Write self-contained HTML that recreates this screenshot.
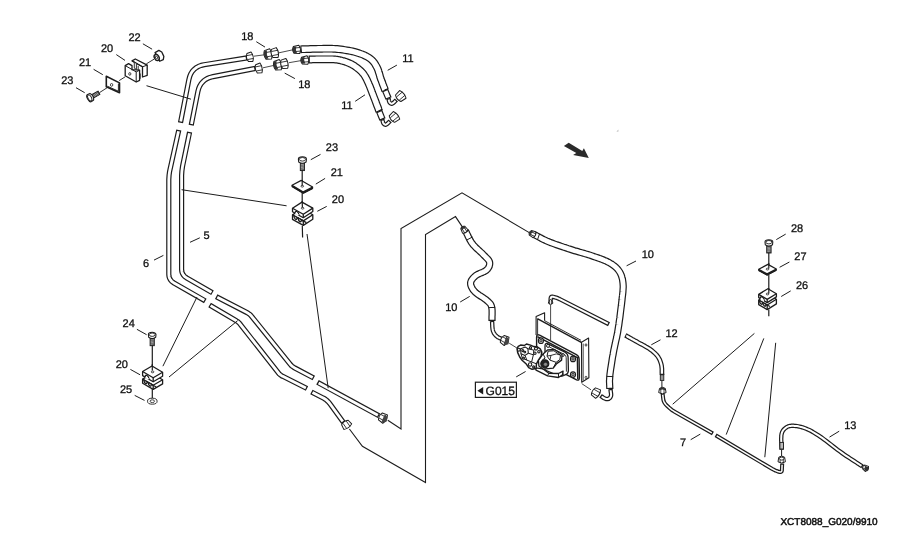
<!DOCTYPE html>
<html lang="en">
<head>
<meta charset="utf-8">
<title>XCT8088_G020/9910</title>
<style>
html,body{margin:0;padding:0;background:#fff;}
body{width:923px;height:544px;overflow:hidden;}
svg{display:block;filter:grayscale(1);}
svg text{font-family:"Liberation Sans",sans-serif;fill:#111;stroke:#111;stroke-width:0.3px;text-rendering:geometricPrecision;font-kerning:normal;font-feature-settings:"liga" 0,"clig" 0,"calt" 0,"dlig" 0;}
</style>
</head>
<body>
<svg width="923" height="544" viewBox="0 0 923 544">
<rect x="0" y="0" width="923" height="544" fill="#fff"/>
<g id="routing">
<path d="M387.8 420.3 L401 429 L401 228.6 L462 192.8 L529.7 232.9" stroke="#1c1c1c" stroke-width="1.1" fill="none" stroke-linejoin="miter"/>
<path d="M349.4 429 L362.4 446.3 L425.5 482.5 L425.5 234.6 L455.5 216.6 L463.5 228.6" stroke="#1c1c1c" stroke-width="1.1" fill="none" stroke-linejoin="miter"/>
</g>
<g id="pipe6">
<path d="M247 57.9 L204.2 64.7 L201.2 65.4 L198.5 66.4 L196.1 67.8 L194 69.5 L192.2 71.5 L190.8 73.8 L189.7 76.5 L188.9 79.6 L180.5 122.7" stroke="#1c1c1c" stroke-width="5.2" fill="none" stroke-linejoin="round"/>
<path d="M245.8 58.1 L204.2 64.7 L201.2 65.4 L198.5 66.4 L196.1 67.8 L194 69.5 L192.2 71.5 L190.8 73.8 L189.7 76.5 L188.9 79.6 L180.7 121.5" stroke="#fff" stroke-width="2.8" fill="none" stroke-linejoin="round"/>
<path d="M178.8 130 L170.1 169.1 L169.8 170.6 L169.5 172.1 L169.3 173.6 L169.1 175 L169 176.5 L168.9 178 L168.8 179.5 L168.8 181 L168.8 274 L168.9 275.5 L169.1 276.8 L169.5 278.1 L170.1 279.2 L170.8 280.3 L171.7 281.3 L172.8 282.2 L174 283 L205.3 300.9" stroke="#1c1c1c" stroke-width="5.2" fill="none" stroke-linejoin="round"/>
<path d="M178.5 131.2 L170.1 169.1 L169.8 170.6 L169.5 172.1 L169.3 173.6 L169.1 175 L169 176.5 L168.9 178 L168.8 179.5 L168.8 181 L168.8 274 L168.9 275.5 L169.1 276.8 L169.5 278.1 L170.1 279.2 L170.8 280.3 L171.7 281.3 L172.8 282.2 L174 283 L204.3 300.3" stroke="#fff" stroke-width="2.8" fill="none" stroke-linejoin="round"/>
<path d="M209.6 305 L235.9 320.5 L236.5 320.9 L237.2 321.3 L237.8 321.7 L238.3 322.2 L238.9 322.7 L239.4 323.2 L239.9 323.8 L240.3 324.4 L278.2 372.6 L278.6 373.2 L279.1 373.8 L279.7 374.3 L280.2 374.7 L280.8 375.2 L281.4 375.6 L282 376 L282.7 376.3 L307 388.5" stroke="#1c1c1c" stroke-width="5.2" fill="none" stroke-linejoin="round"/>
<path d="M210.6 305.6 L235.9 320.5 L236.5 320.9 L237.2 321.3 L237.8 321.7 L238.3 322.2 L238.9 322.7 L239.4 323.2 L239.9 323.8 L240.3 324.4 L278.2 372.6 L278.6 373.2 L279.1 373.8 L279.7 374.3 L280.2 374.7 L280.8 375.2 L281.4 375.6 L282 376 L282.7 376.3 L305.9 388" stroke="#fff" stroke-width="2.8" fill="none" stroke-linejoin="round"/>
<path d="M311.4 392 L322.7 397.7 L323.8 398.3 L324.9 399 L325.9 399.7 L326.8 400.4 L327.7 401.3 L328.6 402.1 L329.4 403.1 L330.1 404 L343.5 422.5" stroke="#1c1c1c" stroke-width="5.2" fill="none" stroke-linejoin="round"/>
<path d="M312.5 392.5 L322.7 397.7 L323.8 398.3 L324.9 399 L325.9 399.7 L326.8 400.4 L327.7 401.3 L328.6 402.1 L329.4 403.1 L330.1 404 L342.8 421.5" stroke="#fff" stroke-width="2.8" fill="none" stroke-linejoin="round"/>
</g>
<g id="pipe5">
<path d="M255.5 68.4 L213.1 76.6 L210 77.4 L207.3 78.5 L204.9 79.9 L202.9 81.7 L201.1 83.7 L199.7 86.1 L198.6 88.8 L197.8 91.9 L191.2 125.2" stroke="#1c1c1c" stroke-width="5.2" fill="none" stroke-linejoin="round"/>
<path d="M254.3 68.6 L213.1 76.6 L210 77.4 L207.3 78.5 L204.9 79.9 L202.9 81.7 L201.1 83.7 L199.7 86.1 L198.6 88.8 L197.8 91.9 L191.5 124" stroke="#fff" stroke-width="2.8" fill="none" stroke-linejoin="round"/>
<path d="M189.6 132 L182.8 165.1 L182.5 166.6 L182.3 168.1 L182.1 169.5 L181.9 171 L181.8 172.5 L181.7 174 L181.6 175.5 L181.6 177 L181.6 269 L181.7 270.5 L181.9 271.8 L182.3 273.1 L182.9 274.2 L183.6 275.3 L184.5 276.3 L185.6 277.2 L186.8 278 L212.5 292.8" stroke="#1c1c1c" stroke-width="5.2" fill="none" stroke-linejoin="round"/>
<path d="M189.4 133.2 L182.8 165.1 L182.5 166.6 L182.3 168.1 L182.1 169.5 L181.9 171 L181.8 172.5 L181.7 174 L181.6 175.5 L181.6 177 L181.6 269 L181.7 270.5 L181.9 271.8 L182.3 273.1 L182.9 274.2 L183.6 275.3 L184.5 276.3 L185.6 277.2 L186.8 278 L211.5 292.2" stroke="#fff" stroke-width="2.8" fill="none" stroke-linejoin="round"/>
<path d="M216.2 296.6 L247 312.6 L247.7 313 L248.3 313.4 L248.9 313.8 L249.5 314.2 L250.1 314.7 L250.6 315.2 L251.1 315.8 L251.6 316.3 L290.1 364.2 L290.6 364.7 L291.1 365.3 L291.6 365.8 L292.2 366.3 L292.8 366.7 L293.4 367.1 L294 367.5 L294.7 367.9 L313.8 378" stroke="#1c1c1c" stroke-width="5.2" fill="none" stroke-linejoin="round"/>
<path d="M217.3 297.2 L247 312.6 L247.7 313 L248.3 313.4 L248.9 313.8 L249.5 314.2 L250.1 314.7 L250.6 315.2 L251.1 315.8 L251.6 316.3 L290.1 364.2 L290.6 364.7 L291.1 365.3 L291.6 365.8 L292.2 366.3 L292.8 366.7 L293.4 367.1 L294 367.5 L294.7 367.9 L312.7 377.4" stroke="#fff" stroke-width="2.8" fill="none" stroke-linejoin="round"/>
<path d="M317.5 382.3 L379 415.8" stroke="#1c1c1c" stroke-width="5.2" fill="none" stroke-linejoin="round"/>
<path d="M318.6 382.9 L377.9 415.2" stroke="#fff" stroke-width="2.8" fill="none" stroke-linejoin="round"/>
</g>
<g id="leaders-long">
<path d="M146.5 85.7L191 99.2" stroke="#1c1c1c" stroke-width="1" fill="none"/>
<path d="M181.6 189.7L286.6 205.8" stroke="#1c1c1c" stroke-width="1" fill="none"/>
<path d="M307 234L328.2 388.2" stroke="#1c1c1c" stroke-width="1" fill="none"/>
<path d="M162.9 366.2L197 297" stroke="#1c1c1c" stroke-width="1" fill="none"/>
<path d="M169 377L237.7 320.6" stroke="#1c1c1c" stroke-width="1" fill="none"/>
<path d="M754.4 333.4L672.7 404.2" stroke="#1c1c1c" stroke-width="1" fill="none"/>
<path d="M763.8 338.4L726.2 434.6" stroke="#1c1c1c" stroke-width="1" fill="none"/>
<path d="M775.7 342.8L764.8 457.2" stroke="#1c1c1c" stroke-width="1" fill="none"/>
</g>
<g id="hose11">
<path d="M300.5 49.3 L302.5 49.2 L304.4 49.2 L306.4 49.1 L308.4 49.1 L310.4 49 L312.4 48.9 L314.3 48.9 L316.3 48.9 L318.2 48.8 L320 48.8 L321.8 48.8 L323.5 48.7 L325.2 48.7 L326.9 48.7 L328.5 48.7 L330.2 48.7 L331.8 48.7 L333.5 48.8 L335.2 48.9 L337 49 L338.8 49.2 L340.8 49.4 L342.7 49.7 L344.7 50 L346.7 50.3 L348.7 50.6 L350.6 51 L352.5 51.4 L354.3 51.8 L356 52.3 L357.6 52.8 L359.2 53.3 L360.8 53.9 L362.3 54.4 L363.8 55 L365.1 55.7 L366.5 56.3 L367.7 57 L368.9 57.8 L370 58.5 L371 59.3 L371.9 60.1 L372.7 60.9 L373.5 61.8 L374.2 62.7 L374.8 63.6 L375.4 64.6 L375.9 65.5 L376.5 66.5 L377 67.5 L377.5 68.5 L377.9 69.5 L378.3 70.5 L378.6 71.6 L378.9 72.6 L379.3 73.7 L379.6 74.8 L379.9 75.9 L380.2 77.1 L380.6 78.2 L381 79.4 L381.5 80.5 L381.9 81.7 L382.4 83 L382.8 84.2 L383.3 85.4 L383.8 86.7 L384.3 87.9 L384.7 89.2 L385.2 90.4" stroke="#1c1c1c" stroke-width="7.8" fill="none" stroke-linejoin="round"/>
<path d="M301.7 49.3 L302.5 49.2 L304.4 49.2 L306.4 49.1 L308.4 49.1 L310.4 49 L312.4 48.9 L314.3 48.9 L316.3 48.9 L318.2 48.8 L320 48.8 L321.8 48.8 L323.5 48.7 L325.2 48.7 L326.9 48.7 L328.5 48.7 L330.2 48.7 L331.8 48.7 L333.5 48.8 L335.2 48.9 L337 49 L338.8 49.2 L340.8 49.4 L342.7 49.7 L344.7 50 L346.7 50.3 L348.7 50.6 L350.6 51 L352.5 51.4 L354.3 51.8 L356 52.3 L357.6 52.8 L359.2 53.3 L360.8 53.9 L362.3 54.4 L363.8 55 L365.1 55.7 L366.5 56.3 L367.7 57 L368.9 57.8 L370 58.5 L371 59.3 L371.9 60.1 L372.7 60.9 L373.5 61.8 L374.2 62.7 L374.8 63.6 L375.4 64.6 L375.9 65.5 L376.5 66.5 L377 67.5 L377.5 68.5 L377.9 69.5 L378.3 70.5 L378.6 71.6 L378.9 72.6 L379.3 73.7 L379.6 74.8 L379.9 75.9 L380.2 77.1 L380.6 78.2 L381 79.4 L381.5 80.5 L381.9 81.7 L382.4 83 L382.8 84.2 L383.3 85.4 L383.8 86.7 L384.3 87.9 L384.7 89.2 L384.8 89.3" stroke="#fff" stroke-width="5.4" fill="none" stroke-linejoin="round"/>
<path d="M308.6 59.5 L309.9 59.5 L311.3 59.5 L312.6 59.4 L313.9 59.4 L315.2 59.4 L316.5 59.3 L317.9 59.3 L319.2 59.3 L320.6 59.3 L322 59.3 L323.4 59.3 L324.9 59.3 L326.4 59.3 L327.9 59.3 L329.4 59.3 L330.9 59.3 L332.4 59.3 L333.9 59.4 L335.4 59.5 L336.8 59.7 L338.2 59.9 L339.5 60.2 L340.9 60.4 L342.2 60.8 L343.5 61.1 L344.8 61.5 L346.1 61.9 L347.4 62.4 L348.6 62.9 L349.8 63.4 L351 64 L352.2 64.6 L353.4 65.3 L354.6 66.1 L355.7 66.9 L356.8 67.7 L357.9 68.5 L358.9 69.3 L359.9 70.2 L360.8 71 L361.6 71.8 L362.3 72.6 L363 73.4 L363.6 74.2 L364.2 75 L364.7 75.8 L365.3 76.7 L365.8 77.7 L366.4 78.8 L367 80 L367.6 81.3 L368.3 82.8 L368.9 84.3 L369.6 85.9 L370.3 87.6 L370.9 89.3 L371.6 91 L372.2 92.7 L372.9 94.4 L373.5 96 L374.1 97.6 L374.7 99.1 L375.3 100.7 L375.9 102.2 L376.4 103.7 L377 105.3 L377.6 106.8 L378.2 108.3 L378.7 109.9 L379.3 111.4" stroke="#1c1c1c" stroke-width="7.8" fill="none" stroke-linejoin="round"/>
<path d="M309.8 59.5 L309.9 59.5 L311.3 59.5 L312.6 59.4 L313.9 59.4 L315.2 59.4 L316.5 59.3 L317.9 59.3 L319.2 59.3 L320.6 59.3 L322 59.3 L323.4 59.3 L324.9 59.3 L326.4 59.3 L327.9 59.3 L329.4 59.3 L330.9 59.3 L332.4 59.3 L333.9 59.4 L335.4 59.5 L336.8 59.7 L338.2 59.9 L339.5 60.2 L340.9 60.4 L342.2 60.8 L343.5 61.1 L344.8 61.5 L346.1 61.9 L347.4 62.4 L348.6 62.9 L349.8 63.4 L351 64 L352.2 64.6 L353.4 65.3 L354.6 66.1 L355.7 66.9 L356.8 67.7 L357.9 68.5 L358.9 69.3 L359.9 70.2 L360.8 71 L361.6 71.8 L362.3 72.6 L363 73.4 L363.6 74.2 L364.2 75 L364.7 75.8 L365.3 76.7 L365.8 77.7 L366.4 78.8 L367 80 L367.6 81.3 L368.3 82.8 L368.9 84.3 L369.6 85.9 L370.3 87.6 L370.9 89.3 L371.6 91 L372.2 92.7 L372.9 94.4 L373.5 96 L374.1 97.6 L374.7 99.1 L375.3 100.7 L375.9 102.2 L376.4 103.7 L377 105.3 L377.6 106.8 L378.2 108.3 L378.7 109.9 L378.9 110.3" stroke="#fff" stroke-width="5.4" fill="none" stroke-linejoin="round"/>
</g>
<g id="hose10L">
<path d="M465.5 231 L466.2 232.3 L466.8 233.6 L467.5 234.9 L468.1 236.3 L468.8 237.6 L469.4 238.9 L470.1 240.2 L470.9 241.5 L471.6 242.7 L472.5 243.9 L473.5 245.1 L474.5 246.2 L475.6 247.4 L476.8 248.5 L478 249.6 L479.2 250.7 L480.4 251.8 L481.5 252.8 L482.5 253.8 L483.4 254.7 L484.3 255.6 L485.1 256.4 L485.9 257.2 L486.7 258 L487.4 258.7 L488 259.4 L488.6 260.1 L489 260.8 L489.4 261.6 L489.6 262.3 L489.7 263.1 L489.7 263.9 L489.6 264.7 L489.4 265.5 L489.2 266.3 L488.8 267.1 L488.4 267.8 L487.8 268.6 L487.3 269.3 L486.6 270 L485.8 270.6 L484.8 271.2 L483.8 271.8 L482.6 272.3 L481.3 272.8 L480.1 273.3 L478.9 273.9 L477.7 274.4 L476.7 275 L475.8 275.6 L475 276.3 L474.3 276.9 L473.5 277.6 L472.9 278.4 L472.3 279.1 L471.7 279.9 L471.3 280.6 L471 281.4 L470.7 282.2 L470.6 283 L470.6 283.8 L470.7 284.6 L470.9 285.5 L471.2 286.3 L471.6 287.2 L472.1 288.1 L472.6 289 L473.2 289.9 L473.9 290.7 L474.7 291.6 L475.6 292.5 L476.7 293.4 L477.9 294.3 L479.2 295.2 L480.6 296.1 L482 297 L483.3 297.8 L484.5 298.7 L485.7 299.5 L486.6 300.3 L487.4 301 L488.1 301.6 L488.8 302.2 L489.3 302.7 L489.8 303.2 L490.3 303.8 L490.7 304.4 L491 305 L491.3 305.8 L491.6 306.8 L491.8 307.9 L492 309.1 L492.1 310.5 L492.1 311.9 L492.1 313.4 L492.1 315 L492 316.5 L492 318 L492 319.5 L492 321" stroke="#1c1c1c" stroke-width="7.2" fill="none" stroke-linejoin="round"/>
<path d="M466.1 232.1 L466.2 232.3 L466.8 233.6 L467.5 234.9 L468.1 236.3 L468.8 237.6 L469.4 238.9 L470.1 240.2 L470.9 241.5 L471.6 242.7 L472.5 243.9 L473.5 245.1 L474.5 246.2 L475.6 247.4 L476.8 248.5 L478 249.6 L479.2 250.7 L480.4 251.8 L481.5 252.8 L482.5 253.8 L483.4 254.7 L484.3 255.6 L485.1 256.4 L485.9 257.2 L486.7 258 L487.4 258.7 L488 259.4 L488.6 260.1 L489 260.8 L489.4 261.6 L489.6 262.3 L489.7 263.1 L489.7 263.9 L489.6 264.7 L489.4 265.5 L489.2 266.3 L488.8 267.1 L488.4 267.8 L487.8 268.6 L487.3 269.3 L486.6 270 L485.8 270.6 L484.8 271.2 L483.8 271.8 L482.6 272.3 L481.3 272.8 L480.1 273.3 L478.9 273.9 L477.7 274.4 L476.7 275 L475.8 275.6 L475 276.3 L474.3 276.9 L473.5 277.6 L472.9 278.4 L472.3 279.1 L471.7 279.9 L471.3 280.6 L471 281.4 L470.7 282.2 L470.6 283 L470.6 283.8 L470.7 284.6 L470.9 285.5 L471.2 286.3 L471.6 287.2 L472.1 288.1 L472.6 289 L473.2 289.9 L473.9 290.7 L474.7 291.6 L475.6 292.5 L476.7 293.4 L477.9 294.3 L479.2 295.2 L480.6 296.1 L482 297 L483.3 297.8 L484.5 298.7 L485.7 299.5 L486.6 300.3 L487.4 301 L488.1 301.6 L488.8 302.2 L489.3 302.7 L489.8 303.2 L490.3 303.8 L490.7 304.4 L491 305 L491.3 305.8 L491.6 306.8 L491.8 307.9 L492 309.1 L492.1 310.5 L492.1 311.9 L492.1 313.4 L492.1 315 L492 316.5 L492 318 L492 319.5 L492 319.8" stroke="#fff" stroke-width="4.8" fill="none" stroke-linejoin="round"/>
<path d="M492 321 L492.1 322 L492.2 323.1 L492.2 324.1 L492.3 325.2 L492.3 326.3 L492.4 327.3 L492.5 328.3 L492.6 329.3 L492.8 330.2 L493 331 L493.3 331.7 L493.6 332.4 L493.9 333.1 L494.3 333.6 L494.7 334.2 L495.1 334.7 L495.6 335.2 L496 335.6 L496.5 336.1 L497 336.5 L497.5 336.9 L498.1 337.3 L498.7 337.6 L499.3 337.9 L499.9 338.2 L500.5 338.4 L501.1 338.7 L501.8 338.9 L502.4 339.2 L503 339.5" stroke="#1c1c1c" stroke-width="4.4" fill="none" stroke-linejoin="round"/>
<path d="M492.1 322.2 L492.2 323.1 L492.2 324.1 L492.3 325.2 L492.3 326.3 L492.4 327.3 L492.5 328.3 L492.6 329.3 L492.8 330.2 L493 331 L493.3 331.7 L493.6 332.4 L493.9 333.1 L494.3 333.6 L494.7 334.2 L495.1 334.7 L495.6 335.2 L496 335.6 L496.5 336.1 L497 336.5 L497.5 336.9 L498.1 337.3 L498.7 337.6 L499.3 337.9 L499.9 338.2 L500.5 338.4 L501.1 338.7 L501.8 338.9 L501.9 339" stroke="#fff" stroke-width="2" fill="none" stroke-linejoin="round"/>
</g>
<g id="hose10R">
<path d="M534 234.4 L535.4 235.1 L536.8 235.9 L538.1 236.6 L539.5 237.3 L540.8 238 L542.2 238.8 L543.6 239.5 L545.1 240.2 L546.8 241 L548.5 241.7 L550.4 242.5 L552.4 243.2 L554.5 244 L556.7 244.8 L558.9 245.5 L561.2 246.3 L563.5 247.1 L565.8 247.8 L568 248.6 L570.2 249.3 L572.4 250 L574.6 250.7 L576.8 251.3 L579.1 252 L581.3 252.6 L583.5 253.2 L585.6 253.9 L587.8 254.5 L589.8 255.1 L591.8 255.8 L593.7 256.5 L595.6 257.1 L597.5 257.7 L599.3 258.4 L601.1 259 L602.8 259.7 L604.5 260.4 L606.1 261 L607.6 261.8 L609 262.5 L610.3 263.3 L611.6 264 L612.7 264.8 L613.8 265.6 L614.8 266.4 L615.8 267.3 L616.7 268.1 L617.5 269 L618.3 270 L619 271 L619.7 272 L620.3 273.1 L620.8 274.2 L621.3 275.3 L621.7 276.5 L622 277.7 L622.4 278.9 L622.6 280.2 L622.8 281.6 L623 283 L623.1 284.4 L623.2 285.9 L623.2 287.3 L623.1 288.8 L623 290.4 L622.9 292 L622.7 293.8 L622.5 295.7 L622.2 297.8 L622 300 L621.7 302.5 L621.4 305.3 L621 308.3 L620.6 311.4 L620.2 314.7 L619.8 318 L619.3 321.2 L618.9 324.3 L618.4 327.3 L618 330 L617.6 332.5 L617.1 334.9 L616.7 337.1 L616.2 339.3 L615.7 341.4 L615.3 343.4 L614.8 345.5 L614.4 347.6 L613.9 349.8 L613.5 352 L613.1 354.4 L612.6 356.8 L612.2 359.4 L611.8 362 L611.4 364.6 L611 367.1 L610.6 369.5 L610.3 371.9 L610 374 L609.8 376 L609.7 377.7 L609.6 379.3 L609.5 380.7 L609.5 382 L609.6 383.2 L609.6 384.3 L609.7 385.4 L609.7 386.6 L609.8 387.7 L609.8 389" stroke="#1c1c1c" stroke-width="7.2" fill="none" stroke-linejoin="round"/>
<path d="M535.1 234.9 L535.4 235.1 L536.8 235.9 L538.1 236.6 L539.5 237.3 L540.8 238 L542.2 238.8 L543.6 239.5 L545.1 240.2 L546.8 241 L548.5 241.7 L550.4 242.5 L552.4 243.2 L554.5 244 L556.7 244.8 L558.9 245.5 L561.2 246.3 L563.5 247.1 L565.8 247.8 L568 248.6 L570.2 249.3 L572.4 250 L574.6 250.7 L576.8 251.3 L579.1 252 L581.3 252.6 L583.5 253.2 L585.6 253.9 L587.8 254.5 L589.8 255.1 L591.8 255.8 L593.7 256.5 L595.6 257.1 L597.5 257.7 L599.3 258.4 L601.1 259 L602.8 259.7 L604.5 260.4 L606.1 261 L607.6 261.8 L609 262.5 L610.3 263.3 L611.6 264 L612.7 264.8 L613.8 265.6 L614.8 266.4 L615.8 267.3 L616.7 268.1 L617.5 269 L618.3 270 L619 271 L619.7 272 L620.3 273.1 L620.8 274.2 L621.3 275.3 L621.7 276.5 L622 277.7 L622.4 278.9 L622.6 280.2 L622.8 281.6 L623 283 L623.1 284.4 L623.2 285.9 L623.2 287.3 L623.1 288.8 L623 290.4 L622.9 292 L622.7 293.8 L622.5 295.7 L622.2 297.8 L622 300 L621.7 302.5 L621.4 305.3 L621 308.3 L620.6 311.4 L620.2 314.7 L619.8 318 L619.3 321.2 L618.9 324.3 L618.4 327.3 L618 330 L617.6 332.5 L617.1 334.9 L616.7 337.1 L616.2 339.3 L615.7 341.4 L615.3 343.4 L614.8 345.5 L614.4 347.6 L613.9 349.8 L613.5 352 L613.1 354.4 L612.6 356.8 L612.2 359.4 L611.8 362 L611.4 364.6 L611 367.1 L610.6 369.5 L610.3 371.9 L610 374 L609.8 376 L609.7 377.7 L609.6 379.3 L609.5 380.7 L609.5 382 L609.6 383.2 L609.6 384.3 L609.7 385.4 L609.7 386.6 L609.8 387.7 L609.8 387.8" stroke="#fff" stroke-width="4.8" fill="none" stroke-linejoin="round"/>
<path d="M610.5 389 L610.6 389.7 L610.6 390.4 L610.7 391.1 L610.8 391.9 L610.9 392.6 L611 393.3 L611.1 394 L611.1 394.6 L611.1 395.2 L611 395.7 L610.9 396.2 L610.7 396.6 L610.5 397 L610.3 397.4 L610.1 397.7 L609.8 398 L609.5 398.2 L609.2 398.4 L608.9 398.6 L608.6 398.8 L608.3 398.9 L608 399 L607.6 399.1 L607.3 399.1 L606.9 399.1 L606.6 399 L606.2 399 L605.8 398.9 L605.4 398.7 L605 398.6 L604.6 398.4 L604.2 398.2 L603.7 398 L603.3 397.7 L602.8 397.4 L602.4 397 L601.9 396.7 L601.5 396.4 L601 396.1 L600.6 395.8" stroke="#1c1c1c" stroke-width="4.4" fill="none" stroke-linejoin="round"/>
<path d="M610.6 390.2 L610.6 390.4 L610.7 391.1 L610.8 391.9 L610.9 392.6 L611 393.3 L611.1 394 L611.1 394.6 L611.1 395.2 L611 395.7 L610.9 396.2 L610.7 396.6 L610.5 397 L610.3 397.4 L610.1 397.7 L609.8 398 L609.5 398.2 L609.2 398.4 L608.9 398.6 L608.6 398.8 L608.3 398.9 L608 399 L607.6 399.1 L607.3 399.1 L606.9 399.1 L606.6 399 L606.2 399 L605.8 398.9 L605.4 398.7 L605 398.6 L604.6 398.4 L604.2 398.2 L603.7 398 L603.3 397.7 L602.8 397.4 L602.4 397 L601.9 396.7 L601.6 396.5" stroke="#fff" stroke-width="2" fill="none" stroke-linejoin="round"/>
</g>
<g id="brtube">
<path d="M550.6 301 L550.7 298.6 L550.8 298 L550.9 297.6 L551.1 297.2 L551.3 296.9 L551.7 296.8 L552.1 296.7 L552.5 296.7 L553.1 296.8 L555.1 297.4 L555.7 297.5 L556.3 297.7 L556.9 297.9 L557.5 298.1 L558 298.4 L558.6 298.6 L559.2 298.9 L559.7 299.1 L609 324.2" stroke="#1c1c1c" stroke-width="4.4" fill="none" stroke-linejoin="round"/>
<path d="M550.6 299.8 L550.7 298.6 L550.8 298 L550.9 297.6 L551.1 297.2 L551.3 296.9 L551.7 296.8 L552.1 296.7 L552.5 296.7 L553.1 296.8 L555.1 297.4 L555.7 297.5 L556.3 297.7 L556.9 297.9 L557.5 298.1 L558 298.4 L558.6 298.6 L559.2 298.9 L559.7 299.1 L607.9 323.7" stroke="#fff" stroke-width="2" fill="none" stroke-linejoin="round"/>
</g>
<g id="t12">
<path d="M625.3 335.3 L626.5 335.9 L627.6 336.6 L628.8 337.2 L629.9 337.9 L631.1 338.5 L632.3 339.2 L633.4 339.8 L634.6 340.5 L635.8 341.1 L637 341.8 L638.2 342.5 L639.5 343.2 L640.8 343.9 L642.1 344.5 L643.4 345.2 L644.7 345.9 L646 346.7 L647.2 347.4 L648.3 348.1 L649.4 348.8 L650.4 349.5 L651.4 350.2 L652.3 350.9 L653.2 351.7 L654 352.4 L654.8 353.1 L655.6 353.9 L656.3 354.6 L657 355.4 L657.6 356.2 L658.2 357 L658.7 357.9 L659.2 358.7 L659.6 359.6 L660 360.4 L660.3 361.3 L660.6 362.2 L660.9 363.1 L661.2 364.1 L661.4 365 L661.6 366 L661.7 366.9 L661.8 367.9 L661.9 368.9 L661.9 369.9 L661.9 370.9 L661.9 372 L661.9 373 L662 374 L662 375" stroke="#1c1c1c" stroke-width="4.7" fill="none" stroke-linejoin="round"/>
<path d="M626.3 335.9 L626.5 335.9 L627.6 336.6 L628.8 337.2 L629.9 337.9 L631.1 338.5 L632.3 339.2 L633.4 339.8 L634.6 340.5 L635.8 341.1 L637 341.8 L638.2 342.5 L639.5 343.2 L640.8 343.9 L642.1 344.5 L643.4 345.2 L644.7 345.9 L646 346.7 L647.2 347.4 L648.3 348.1 L649.4 348.8 L650.4 349.5 L651.4 350.2 L652.3 350.9 L653.2 351.7 L654 352.4 L654.8 353.1 L655.6 353.9 L656.3 354.6 L657 355.4 L657.6 356.2 L658.2 357 L658.7 357.9 L659.2 358.7 L659.6 359.6 L660 360.4 L660.3 361.3 L660.6 362.2 L660.9 363.1 L661.2 364.1 L661.4 365 L661.6 366 L661.7 366.9 L661.8 367.9 L661.9 368.9 L661.9 369.9 L661.9 370.9 L661.9 372 L661.9 373 L661.9 373.8" stroke="#fff" stroke-width="2.3" fill="none" stroke-linejoin="round"/>
<path d="M661.9 380.7L661.9 388.3" stroke="#1c1c1c" stroke-width="1" fill="none"/>
</g>
<g id="t7">
<path d="M662.6 393.5 L663.2 398.5 L663.3 399.5 L663.5 400.4 L663.8 401.3 L664.2 402.2 L664.7 403 L665.2 403.8 L665.8 404.5 L666.5 405.2 L668.7 407.3 L669.4 407.9 L670.2 408.6 L670.9 409.2 L671.7 409.8 L672.5 410.4 L673.4 410.9 L674.2 411.5 L675.1 412 L712.9 433.5" stroke="#1c1c1c" stroke-width="4" fill="none" stroke-linejoin="round"/>
<path d="M662.7 394.7 L663.2 398.5 L663.3 399.5 L663.5 400.4 L663.8 401.3 L664.2 402.2 L664.7 403 L665.2 403.8 L665.8 404.5 L666.5 405.2 L668.7 407.3 L669.4 407.9 L670.2 408.6 L670.9 409.2 L671.7 409.8 L672.5 410.4 L673.4 410.9 L674.2 411.5 L675.1 412 L711.8 432.9" stroke="#fff" stroke-width="1.5" fill="none" stroke-linejoin="round"/>
<path d="M715.6 435.3 L772.4 469 L773.1 469.3 L773.7 469.7 L774.4 470 L775.1 470.4 L775.7 470.7 L776.4 470.9 L777.1 471.2 L777.8 471.5 L779 471.8 L779.6 472 L780.2 472.1 L780.7 472 L781.1 471.8 L781.5 471.5 L781.7 471.1 L781.9 470.5 L781.9 469.8 L782.2 463.5" stroke="#1c1c1c" stroke-width="4" fill="none" stroke-linejoin="round"/>
<path d="M716.7 435.9 L772.4 469 L773.1 469.3 L773.7 469.7 L774.4 470 L775.1 470.4 L775.7 470.7 L776.4 470.9 L777.1 471.2 L777.8 471.5 L779 471.8 L779.6 472 L780.2 472.1 L780.7 472 L781.1 471.8 L781.5 471.5 L781.7 471.1 L781.9 470.5 L781.9 469.8 L782.1 464.7" stroke="#fff" stroke-width="1.5" fill="none" stroke-linejoin="round"/>
<path d="M781.6 449.7L781.6 456.2" stroke="#1c1c1c" stroke-width="1" fill="none"/>
</g>
<g id="h13">
<path d="M781.6 449.7 L781.6 448.1 L781.5 446.5 L781.4 444.9 L781.4 443.2 L781.3 441.6 L781.2 440 L781.2 438.4 L781.3 437 L781.3 435.7 L781.5 434.5 L781.7 433.5 L782 432.6 L782.3 431.8 L782.7 431.1 L783.1 430.4 L783.5 429.9 L784 429.4 L784.4 428.9 L785 428.4 L785.5 428 L786.1 427.6 L786.6 427.2 L787.2 426.9 L787.8 426.6 L788.5 426.3 L789.2 426.1 L789.9 426 L790.7 425.9 L791.6 425.8 L792.5 425.8 L793.5 425.8 L794.6 425.9 L795.8 426 L797 426.1 L798.2 426.3 L799.5 426.6 L800.9 426.9 L802.2 427.3 L803.6 427.7 L805 428.2 L806.4 428.8 L807.8 429.4 L809.2 430 L810.6 430.7 L812 431.5 L813.5 432.4 L815.1 433.3 L816.7 434.3 L818.4 435.4 L820.2 436.6 L822.1 437.9 L824.1 439.4 L826.3 441 L828.5 442.7 L830.7 444.4 L833 446.2 L835.3 448 L837.5 449.7 L839.7 451.3 L841.9 452.9 L844 454.4 L846.1 455.8 L848.2 457.2 L850.2 458.5 L852.3 459.9 L854.3 461.2 L856.4 462.5 L858.4 463.8 L860.4 465.2 L862.5 466.5" stroke="#1c1c1c" stroke-width="4.4" fill="none" stroke-linejoin="round"/>
<path d="M781.6 448.5 L781.6 448.1 L781.5 446.5 L781.4 444.9 L781.4 443.2 L781.3 441.6 L781.2 440 L781.2 438.4 L781.3 437 L781.3 435.7 L781.5 434.5 L781.7 433.5 L782 432.6 L782.3 431.8 L782.7 431.1 L783.1 430.4 L783.5 429.9 L784 429.4 L784.4 428.9 L785 428.4 L785.5 428 L786.1 427.6 L786.6 427.2 L787.2 426.9 L787.8 426.6 L788.5 426.3 L789.2 426.1 L789.9 426 L790.7 425.9 L791.6 425.8 L792.5 425.8 L793.5 425.8 L794.6 425.9 L795.8 426 L797 426.1 L798.2 426.3 L799.5 426.6 L800.9 426.9 L802.2 427.3 L803.6 427.7 L805 428.2 L806.4 428.8 L807.8 429.4 L809.2 430 L810.6 430.7 L812 431.5 L813.5 432.4 L815.1 433.3 L816.7 434.3 L818.4 435.4 L820.2 436.6 L822.1 437.9 L824.1 439.4 L826.3 441 L828.5 442.7 L830.7 444.4 L833 446.2 L835.3 448 L837.5 449.7 L839.7 451.3 L841.9 452.9 L844 454.4 L846.1 455.8 L848.2 457.2 L850.2 458.5 L852.3 459.9 L854.3 461.2 L856.4 462.5 L858.4 463.8 L860.4 465.2 L861.5 465.8" stroke="#fff" stroke-width="2" fill="none" stroke-linejoin="round"/>
</g>
<g id="labels">
<text x="128.4" y="41.1" font-size="11" font-weight="normal" text-anchor="start">22</text>
<text x="100.9" y="52.3" font-size="11" font-weight="normal" text-anchor="start">20</text>
<text x="78.9" y="66.4" font-size="11" font-weight="normal" text-anchor="start">21</text>
<text x="61.2" y="84.4" font-size="11" font-weight="normal" text-anchor="start">23</text>
<text x="241.2" y="39.8" font-size="11" font-weight="normal" text-anchor="start">18</text>
<text x="298.2" y="87.5" font-size="11" font-weight="normal" text-anchor="start">18</text>
<text x="402.2" y="62.1" font-size="11" font-weight="normal" text-anchor="start">11</text>
<text x="341.2" y="109.2" font-size="11" font-weight="normal" text-anchor="start">11</text>
<text x="325.8" y="151.4" font-size="11" font-weight="normal" text-anchor="start">23</text>
<text x="330.7" y="175.8" font-size="11" font-weight="normal" text-anchor="start">21</text>
<text x="331.8" y="203.3" font-size="11" font-weight="normal" text-anchor="start">20</text>
<text x="203.4" y="238.7" font-size="11" font-weight="normal" text-anchor="start">5</text>
<text x="143.1" y="267.1" font-size="11" font-weight="normal" text-anchor="start">6</text>
<text x="122.6" y="327.4" font-size="11" font-weight="normal" text-anchor="start">24</text>
<text x="115.7" y="368.1" font-size="11" font-weight="normal" text-anchor="start">20</text>
<text x="119.9" y="393.1" font-size="11" font-weight="normal" text-anchor="start">25</text>
<text x="445.2" y="310.8" font-size="11" font-weight="normal" text-anchor="start">10</text>
<text x="641.7" y="258.4" font-size="11" font-weight="normal" text-anchor="start">10</text>
<text x="665.4" y="337" font-size="11" font-weight="normal" text-anchor="start">12</text>
<text x="790.9" y="231.9" font-size="11" font-weight="normal" text-anchor="start">28</text>
<text x="794.3" y="259.6" font-size="11" font-weight="normal" text-anchor="start">27</text>
<text x="795.9" y="288.7" font-size="11" font-weight="normal" text-anchor="start">26</text>
<text x="679.9" y="446.4" font-size="11" font-weight="normal" text-anchor="start">7</text>
<text x="844.2" y="429.3" font-size="11" font-weight="normal" text-anchor="start">13</text>
<text x="485.6" y="395" font-size="12" font-weight="normal" text-anchor="start">G015</text>
<text x="780.4" y="525.3" font-size="10" font-weight="normal" text-anchor="start" style="stroke-width:0.5px">XCT8088_G020/9910</text>
</g>
<g id="leaders-short">
<path d="M142.9 43.8L152.1 49.2" stroke="#1c1c1c" stroke-width="1" fill="none"/>
<path d="M116.3 54.6L125 60.4" stroke="#1c1c1c" stroke-width="1" fill="none"/>
<path d="M93.6 69.3L102.8 74.7" stroke="#1c1c1c" stroke-width="1" fill="none"/>
<path d="M76 87.7L84.7 92.7" stroke="#1c1c1c" stroke-width="1" fill="none"/>
<path d="M256.3 41.7L265 47.1" stroke="#1c1c1c" stroke-width="1" fill="none"/>
<path d="M284.7 73.1L294.9 78.6" stroke="#1c1c1c" stroke-width="1" fill="none"/>
<path d="M387.7 70.3L396.9 65.1" stroke="#1c1c1c" stroke-width="1" fill="none"/>
<path d="M355.2 101.3L365 94.8" stroke="#1c1c1c" stroke-width="1" fill="none"/>
<path d="M310.8 159.7L320.5 154.4" stroke="#1c1c1c" stroke-width="1" fill="none"/>
<path d="M315.8 184.1L325.1 178.4" stroke="#1c1c1c" stroke-width="1" fill="none"/>
<path d="M317.3 211.3L326.7 206.4" stroke="#1c1c1c" stroke-width="1" fill="none"/>
<path d="M190 242.3L199.8 237.8" stroke="#1c1c1c" stroke-width="1" fill="none"/>
<path d="M154 260.1L163.4 255.4" stroke="#1c1c1c" stroke-width="1" fill="none"/>
<path d="M136.9 329.3L146.6 334.7" stroke="#1c1c1c" stroke-width="1" fill="none"/>
<path d="M130.4 369.4L140.1 374.8" stroke="#1c1c1c" stroke-width="1" fill="none"/>
<path d="M134.7 395.4L144.5 400.4" stroke="#1c1c1c" stroke-width="1" fill="none"/>
<path d="M460.2 302L469.7 296.4" stroke="#1c1c1c" stroke-width="1" fill="none"/>
<path d="M626.6 265.8L636 261" stroke="#1c1c1c" stroke-width="1" fill="none"/>
<path d="M651.3 344.8L660.5 339.8" stroke="#1c1c1c" stroke-width="1" fill="none"/>
<path d="M776.3 239.6L785.7 234.1" stroke="#1c1c1c" stroke-width="1" fill="none"/>
<path d="M779.6 267.3L789.4 262" stroke="#1c1c1c" stroke-width="1" fill="none"/>
<path d="M781.2 296.5L790.7 290.9" stroke="#1c1c1c" stroke-width="1" fill="none"/>
<path d="M690.7 439.7L700.3 434.1" stroke="#1c1c1c" stroke-width="1" fill="none"/>
<path d="M829.5 437.1L839.2 431.2" stroke="#1c1c1c" stroke-width="1" fill="none"/>
<path d="M516.2 376.9L525.6 371.5" stroke="#1c1c1c" stroke-width="1" fill="none"/>
</g>
<g id="g015">
<rect x="475.4" y="382.2" width="41" height="15.2" fill="none" stroke="#1c1c1c" stroke-width="1.2"/>
<path d="M477.4 390.7L483.2 386.9L483.2 394.6Z" fill="#1c1c1c"/>
</g>
<path id="arrow" d="M563.9 146L568.7 142.8L582.3 150.9L583.9 148.2L588.8 158L573.1 154.9L576.3 153.1Z" fill="#2a2a2a"/>
<g id="stack-mid">
<path d="M302.2 170L302.2 181" stroke="#1c1c1c" stroke-width="1.2" fill="none"/>
<path d="M302.2 192.8L302.2 203" stroke="#1c1c1c" stroke-width="1.2" fill="none"/>
<path d="M302.3 226L302.6 237.5" stroke="#1c1c1c" stroke-width="1.2" fill="none"/>
<g>
<rect x="300.3" y="162.7" width="4.2" height="7.9" fill="#555" stroke="#1c1c1c" stroke-width="0.9"/>
<path d="M300.9 164.7L303.9 164.2" stroke="#ddd" stroke-width="0.5"/>
<path d="M300.9 166.2L303.9 165.7" stroke="#ddd" stroke-width="0.5"/>
<path d="M300.9 167.6L303.9 167.1" stroke="#ddd" stroke-width="0.5"/>
<path d="M300.9 169.1L303.9 168.6" stroke="#ddd" stroke-width="0.5"/>
<path d="M298.4 159.1 L298.7 162 Q302.4 164.6 306.1 162 L306.4 159.1 A4 2.3 0 0 0 298.4 159.1 Z" fill="#fff" stroke="#1c1c1c" stroke-width="1.1" stroke-linejoin="round"/>
<ellipse cx="302.4" cy="159.3" rx="3.1" ry="1.8" fill="#fff" stroke="#1c1c1c" stroke-width="0.9"/>
</g>
<path d="M292 185.2 L301.3 180.4 L312.6 187.1 L312.6 188.2 L303.3 193 L292 186.3Z" stroke="#1c1c1c" stroke-width="1.2" fill="#fff" stroke-linejoin="round"/>
<path d="M292 185.2 L303.3 191.9 L312.6 187.1" stroke="#1c1c1c" stroke-width="1.2" fill="none" stroke-linejoin="round"/>
<path d="M292 186.3 L303.3 193 L312.6 188.2" stroke="#1c1c1c" stroke-width="1.6" fill="none" stroke-linejoin="round"/>
<ellipse cx="302.3" cy="186.2" rx="1.3" ry="0.9" fill="#fff" stroke="#1c1c1c" stroke-width="0.8"/>
<path d="M292.5 214.9 L302 208.7 L312.8 214.7 L312.8 219.2 L303.3 225.4 L292.5 219.4Z" stroke="#1c1c1c" stroke-width="1.3" fill="#fff" stroke-linejoin="round"/>
<path d="M292.5 214.9 L303.3 220.9 L312.8 214.7" stroke="#1c1c1c" stroke-width="1.3" fill="none" stroke-linejoin="round"/>
<path d="M303.3 220.9L303.3 225.4" stroke="#1c1c1c" stroke-width="1.3" fill="none"/>
<path d="M293.9 215.7 C294.1 219.3 297 220.9 297.2 217.5" stroke="#1c1c1c" stroke-width="1.3" fill="#fff"/>
<path d="M293.9 215.7L298.7 218.4" stroke="#1c1c1c" stroke-width="1.2" fill="none"/>
<path d="M297.2 217.5L302 220.2" stroke="#1c1c1c" stroke-width="1.2" fill="none"/>
<path d="M298.2 218.1 C298.4 221.7 301.3 223.3 301.5 219.9" stroke="#1c1c1c" stroke-width="1.3" fill="#fff"/>
<path d="M298.2 218.1L303 220.8" stroke="#1c1c1c" stroke-width="1.2" fill="none"/>
<path d="M301.5 219.9L306.4 222.6" stroke="#1c1c1c" stroke-width="1.2" fill="none"/>
<path d="M292.5 208.3 L302 202.1 L312.8 208.1 L312.8 211.5 L303.3 217.7 L292.5 211.7Z" stroke="#1c1c1c" stroke-width="1.3" fill="#fff" stroke-linejoin="round"/>
<path d="M292.5 208.3 L303.3 214.3 L312.8 208.1" stroke="#1c1c1c" stroke-width="1.3" fill="none" stroke-linejoin="round"/>
<path d="M303.3 214.3L303.3 217.7" stroke="#1c1c1c" stroke-width="1.3" fill="none"/>
<path d="M295 213.1 C295.2 209.7 298.8 211.5 299 215.3" stroke="#1c1c1c" stroke-width="1.3" fill="#fff"/>
<path d="M295.5 213.4 L298.5 215.1" stroke="#fff" stroke-width="1.6"/>
<ellipse cx="302.6" cy="208.2" rx="1.3" ry="0.9" fill="#fff" stroke="#1c1c1c" stroke-width="0.8"/>
<path d="M302.2 180L302.2 185.4" stroke="#1c1c1c" stroke-width="1.2" fill="none"/>
<path d="M302.2 201L302.4 207.4" stroke="#1c1c1c" stroke-width="1.2" fill="none"/>
</g>
<g id="stack-bl">
<path d="M152.3 345L152.3 367" stroke="#1c1c1c" stroke-width="1.2" fill="none"/>
<path d="M152.3 389L152.3 398.5" stroke="#1c1c1c" stroke-width="1.2" fill="none"/>
<g>
<rect x="150.1" y="338" width="4.2" height="7.7" fill="#555" stroke="#1c1c1c" stroke-width="0.9"/>
<path d="M150.7 339.9L153.7 339.4" stroke="#ddd" stroke-width="0.5"/>
<path d="M150.7 341.4L153.7 340.9" stroke="#ddd" stroke-width="0.5"/>
<path d="M150.7 342.8L153.7 342.3" stroke="#ddd" stroke-width="0.5"/>
<path d="M150.7 344.3L153.7 343.8" stroke="#ddd" stroke-width="0.5"/>
<path d="M148.4 334.5 L148.7 337.3 Q152.2 339.9 155.7 337.3 L156 334.5 A3.8 2.2 0 0 0 148.4 334.5 Z" fill="#fff" stroke="#1c1c1c" stroke-width="1.1" stroke-linejoin="round"/>
<ellipse cx="152.2" cy="334.7" rx="2.9" ry="1.7" fill="#fff" stroke="#1c1c1c" stroke-width="0.9"/>
</g>
<path d="M142.6 379.1 L152 373.6 L162.6 379.8 L162.6 383.9 L153.2 389.4 L142.6 383.2Z" stroke="#1c1c1c" stroke-width="1.3" fill="#fff" stroke-linejoin="round"/>
<path d="M142.6 379.1 L153.2 385.3 L162.6 379.8" stroke="#1c1c1c" stroke-width="1.3" fill="none" stroke-linejoin="round"/>
<path d="M153.2 385.3L153.2 389.4" stroke="#1c1c1c" stroke-width="1.3" fill="none"/>
<path d="M143.9 379.9 C144.1 383.5 147 385.2 147.2 381.8" stroke="#1c1c1c" stroke-width="1.3" fill="#fff"/>
<path d="M143.9 379.9L148.7 382.7" stroke="#1c1c1c" stroke-width="1.2" fill="none"/>
<path d="M147.2 381.8L152 384.6" stroke="#1c1c1c" stroke-width="1.2" fill="none"/>
<path d="M148.2 382.4 C148.4 386 151.2 387.7 151.4 384.3" stroke="#1c1c1c" stroke-width="1.3" fill="#fff"/>
<path d="M148.2 382.4L152.9 385.1" stroke="#1c1c1c" stroke-width="1.2" fill="none"/>
<path d="M151.4 384.3L156.2 387.1" stroke="#1c1c1c" stroke-width="1.2" fill="none"/>
<path d="M142.6 371.5 L152 366 L162.6 372.2 L162.6 376.3 L153.2 381.8 L142.6 375.6Z" stroke="#1c1c1c" stroke-width="1.3" fill="#fff" stroke-linejoin="round"/>
<path d="M142.6 371.5 L153.2 377.7 L162.6 372.2" stroke="#1c1c1c" stroke-width="1.3" fill="none" stroke-linejoin="round"/>
<path d="M153.2 377.7L153.2 381.8" stroke="#1c1c1c" stroke-width="1.3" fill="none"/>
<path d="M145.1 377 C145.3 373.6 148.8 375.6 149 379.4" stroke="#1c1c1c" stroke-width="1.3" fill="#fff"/>
<path d="M145.6 377.3 L148.5 379.2" stroke="#fff" stroke-width="1.6"/>
<ellipse cx="152.6" cy="371.9" rx="1.3" ry="0.9" fill="#fff" stroke="#1c1c1c" stroke-width="0.8"/>
<ellipse cx="152.3" cy="401.2" rx="4.8" ry="3" fill="#fff" stroke="#1c1c1c" stroke-width="0.9"/>
<ellipse cx="152.3" cy="401.2" rx="2.2" ry="1.4" fill="#fff" stroke="#1c1c1c" stroke-width="0.8"/>
<path d="M152.3 364L152.3 370.4" stroke="#1c1c1c" stroke-width="1.2" fill="none"/>
</g>
<g id="stack-r">
<path d="M768.8 252L768.8 265" stroke="#1c1c1c" stroke-width="1.2" fill="none"/>
<path d="M768.8 275L768.8 289.5" stroke="#1c1c1c" stroke-width="1.2" fill="none"/>
<path d="M768.8 309.6L768.8 316.2" stroke="#1c1c1c" stroke-width="1.2" fill="none"/>
<g>
<rect x="766.7" y="245.5" width="4.4" height="7.5" fill="#555" stroke="#1c1c1c" stroke-width="0.9"/>
<path d="M767.3 247.4L770.5 246.9" stroke="#ddd" stroke-width="0.5"/>
<path d="M767.3 248.8L770.5 248.3" stroke="#ddd" stroke-width="0.5"/>
<path d="M767.3 250.2L770.5 249.7" stroke="#ddd" stroke-width="0.5"/>
<path d="M767.3 251.6L770.5 251.1" stroke="#ddd" stroke-width="0.5"/>
<path d="M765 242 L765.3 244.8 Q768.9 247.4 772.5 244.8 L772.8 242 A3.9 2.2 0 0 0 765 242 Z" fill="#fff" stroke="#1c1c1c" stroke-width="1.1" stroke-linejoin="round"/>
<ellipse cx="768.9" cy="242.2" rx="3" ry="1.7" fill="#fff" stroke="#1c1c1c" stroke-width="0.9"/>
</g>
<path d="M758.7 269.3 L767.9 264.4 L776.3 269 L776.3 270 L767.1 274.9 L758.7 270.3Z" stroke="#1c1c1c" stroke-width="1.2" fill="#fff" stroke-linejoin="round"/>
<path d="M758.7 269.3 L767.1 273.9 L776.3 269" stroke="#1c1c1c" stroke-width="1.2" fill="none" stroke-linejoin="round"/>
<path d="M758.7 270.3 L767.1 274.9 L776.3 270" stroke="#1c1c1c" stroke-width="1.6" fill="none" stroke-linejoin="round"/>
<ellipse cx="767.5" cy="269.1" rx="1.3" ry="0.9" fill="#fff" stroke="#1c1c1c" stroke-width="0.8"/>
<path d="M758.7 300 L767.9 294.3 L776.4 299.3 L776.4 303.9 L767.2 309.6 L758.7 304.6Z" stroke="#1c1c1c" stroke-width="1.3" fill="#fff" stroke-linejoin="round"/>
<path d="M758.7 300 L767.2 305 L776.4 299.3" stroke="#1c1c1c" stroke-width="1.3" fill="none" stroke-linejoin="round"/>
<path d="M767.2 305L767.2 309.6" stroke="#1c1c1c" stroke-width="1.3" fill="none"/>
<path d="M759.4 300.4 C759.6 304 762.5 305.8 762.7 302.4" stroke="#1c1c1c" stroke-width="1.3" fill="#fff"/>
<path d="M759.4 300.4L763.3 302.7" stroke="#1c1c1c" stroke-width="1.2" fill="none"/>
<path d="M762.7 302.4L766.5 304.6" stroke="#1c1c1c" stroke-width="1.2" fill="none"/>
<path d="M762.8 302.4 C763 306 765.9 307.8 766.1 304.4" stroke="#1c1c1c" stroke-width="1.3" fill="#fff"/>
<path d="M762.8 302.4L766.7 304.7" stroke="#1c1c1c" stroke-width="1.2" fill="none"/>
<path d="M766.1 304.4L769.9 306.6" stroke="#1c1c1c" stroke-width="1.2" fill="none"/>
<path d="M758.7 294.4 L767.9 288.7 L776.4 293.7 L776.4 296.9 L767.2 302.6 L758.7 297.6Z" stroke="#1c1c1c" stroke-width="1.3" fill="#fff" stroke-linejoin="round"/>
<path d="M758.7 294.4 L767.2 299.4 L776.4 293.7" stroke="#1c1c1c" stroke-width="1.3" fill="none" stroke-linejoin="round"/>
<path d="M767.2 299.4L767.2 302.6" stroke="#1c1c1c" stroke-width="1.3" fill="none"/>
<path d="M760.3 298.5 C760.5 295.1 764.1 297.1 764.3 300.9" stroke="#1c1c1c" stroke-width="1.3" fill="#fff"/>
<path d="M760.8 298.8 L763.8 300.7" stroke="#fff" stroke-width="1.6"/>
<ellipse cx="767.5" cy="294" rx="1.3" ry="0.9" fill="#fff" stroke="#1c1c1c" stroke-width="0.8"/>
<path d="M768.8 263L768.8 268.6" stroke="#1c1c1c" stroke-width="1.2" fill="none"/>
<path d="M768.8 288L768.8 293.4" stroke="#1c1c1c" stroke-width="1.2" fill="none"/>
</g>
<g id="stack-tl">
<path d="M99.5 92.6L107 87.8" stroke="#1c1c1c" stroke-width="0.9" fill="none"/>
<path d="M119.2 80.6L125.2 76.8" stroke="#1c1c1c" stroke-width="0.9" fill="none"/>
<path d="M146.3 63.9L154 59.2" stroke="#1c1c1c" stroke-width="0.9" fill="none"/>
<g transform="rotate(-119 90.6 97.4)">
<rect x="88.7" y="99.5" width="3.8" height="7.5" fill="#555" stroke="#1c1c1c" stroke-width="0.9"/>
<path d="M89.3 101.4L91.9 100.9" stroke="#ddd" stroke-width="0.5"/>
<path d="M89.3 102.8L91.9 102.3" stroke="#ddd" stroke-width="0.5"/>
<path d="M89.3 104.2L91.9 103.7" stroke="#ddd" stroke-width="0.5"/>
<path d="M89.3 105.6L91.9 105.1" stroke="#ddd" stroke-width="0.5"/>
<path d="M86.5 96.2 L86.8 98.8 Q90.6 101.4 94.4 98.8 L94.7 96.2 A4.1 2.2 0 0 0 86.5 96.2 Z" fill="#fff" stroke="#1c1c1c" stroke-width="1.1" stroke-linejoin="round"/>
<ellipse cx="90.6" cy="96.4" rx="3.2" ry="1.7" fill="#fff" stroke="#1c1c1c" stroke-width="0.9"/>
</g>
<path d="M106.3 76.3 L119.5 82.9 L119.5 92.7 L106.3 86.8Z" stroke="#1c1c1c" stroke-width="1.6" fill="#fff" stroke-linejoin="round"/>
<path d="M107.4 86.2 L118.4 91.2 L118.4 83.6" stroke="#1c1c1c" stroke-width="0.9" fill="none" stroke-linejoin="round"/>
<ellipse cx="111.6" cy="84.9" rx="1.2" ry="1.4" fill="#fff" stroke="#1c1c1c" stroke-width="0.8"/>
<path d="M132 60.9 L135.3 59 L147.2 65.1 L147.2 75.3 L142.5 77 L142.5 66.8Z" stroke="#1c1c1c" stroke-width="1.3" fill="#fff" stroke-linejoin="round"/>
<path d="M142.5 66.8 L147.2 65.1" stroke="#1c1c1c" stroke-width="1" fill="none" stroke-linejoin="round"/>
<path d="M132 60.9 L142.5 66.8" stroke="#1c1c1c" stroke-width="1" fill="none" stroke-linejoin="round"/>
<path d="M134.3 62.2 L134.3 68.2 L136.4 69.4 L136.4 63.4Z" stroke="#1c1c1c" stroke-width="0.9" fill="#fff" stroke-linejoin="round"/>
<path d="M138.2 65.8 L138.2 72.5 L140.2 73.6 L140.2 78.8" stroke="#1c1c1c" stroke-width="0.9" fill="none" stroke-linejoin="round"/>
<path d="M125.2 65.6 L128.6 63.6 L132 65.6 L132 69.7 L139.6 70.2 L139.6 80.3 L136.2 82 L125.2 75.7Z" stroke="#1c1c1c" stroke-width="1.3" fill="#fff" stroke-linejoin="round"/>
<path d="M125.2 65.6 L136.2 71.9 L136.2 82" stroke="#1c1c1c" stroke-width="1" fill="none" stroke-linejoin="round"/>
<path d="M136.2 71.9 L139.6 70.2" stroke="#1c1c1c" stroke-width="1" fill="none" stroke-linejoin="round"/>
<ellipse cx="129.8" cy="73.9" rx="1.1" ry="1.3" fill="#fff" stroke="#1c1c1c" stroke-width="0.8"/>
<g transform="rotate(-28 158.6 56.3)">
<path d="M157.2 51.4 L161.6 51.2 L163.4 54 L163.2 58.8 L161.2 61.4 L157.2 61.2 Z" fill="#fff" stroke="#1c1c1c" stroke-width="1.3" stroke-linejoin="round"/>
<ellipse cx="156.4" cy="56.4" rx="2.3" ry="3.3" fill="#fff" stroke="#1c1c1c" stroke-width="1.4"/>
<ellipse cx="156.2" cy="56.4" rx="1.0" ry="1.8" fill="#fff" stroke="#1c1c1c" stroke-width="0.8"/>
</g>
</g>
<g id="nuts-top">
<path d="M253.9 56.2L264.3 54.8" stroke="#1c1c1c" stroke-width="0.8" fill="none"/>
<path d="M279 52.8L293.3 49.7" stroke="#1c1c1c" stroke-width="0.8" fill="none"/>
<path d="M263 67.8L273.4 65.5" stroke="#1c1c1c" stroke-width="0.8" fill="none"/>
<path d="M289 62.7L301.1 60.6" stroke="#1c1c1c" stroke-width="0.8" fill="none"/>
<g transform="translate(250.3 57) rotate(-11)">
<path d="M-2.7 -4 L1.7 -4.8 Q4.1 0 1.7 4.8 L-2.7 4 Q-4.9 0 -2.7 -4 Z" fill="#fff" stroke="#1c1c1c" stroke-width="1" stroke-linejoin="round"/>
<path d="M-3.1 -2L2.9 -2M-3.1 2L2.9 2" stroke="#1c1c1c" stroke-width="0.8" fill="none"/>
</g>
<g transform="translate(259.2 68.3) rotate(-11)">
<path d="M-2.8 -4.2 L1.8 -5 Q4.2 0 1.8 5 L-2.8 4.2 Q-5 0 -2.8 -4.2 Z" fill="#fff" stroke="#1c1c1c" stroke-width="1" stroke-linejoin="round"/>
<path d="M-3.2 -2.1L3 -2.1M-3.2 2.1L3 2.1" stroke="#1c1c1c" stroke-width="0.8" fill="none"/>
</g>
<g transform="translate(268.4 54.3) rotate(-11)">
<path d="M-3.3 -4.4 L2.3 -5.2 Q4.7 0 2.3 5.2 L-3.3 4.4 Q-5.5 0 -3.3 -4.4 Z" fill="#fff" stroke="#1c1c1c" stroke-width="1" stroke-linejoin="round"/>
<path d="M-3.7 -2.2L3.5 -2.2M-3.7 2.2L3.5 2.2" stroke="#1c1c1c" stroke-width="0.8" fill="none"/>
<path d="M-3.3 -4.2 Q-5.5 0 -3.3 4.2 L-0.7 4.2 Q-2.3 0 -0.7 -4.2 Z" fill="#333"/>
</g>
<g transform="translate(275.2 52.9) rotate(-11)">
<path d="M-3 -4.2 L2 -5 Q4.4 0 2 5 L-3 4.2 Q-5.2 0 -3 -4.2 Z" fill="#fff" stroke="#1c1c1c" stroke-width="1" stroke-linejoin="round"/>
<path d="M-3.4 -2.1L3.2 -2.1M-3.4 2.1L3.2 2.1" stroke="#1c1c1c" stroke-width="0.8" fill="none"/>
</g>
<g transform="translate(278 65.1) rotate(-11)">
<path d="M-3.3 -4.4 L2.3 -5.2 Q4.7 0 2.3 5.2 L-3.3 4.4 Q-5.5 0 -3.3 -4.4 Z" fill="#fff" stroke="#1c1c1c" stroke-width="1" stroke-linejoin="round"/>
<path d="M-3.7 -2.2L3.5 -2.2M-3.7 2.2L3.5 2.2" stroke="#1c1c1c" stroke-width="0.8" fill="none"/>
<path d="M-3.3 -4.2 Q-5.5 0 -3.3 4.2 L-0.7 4.2 Q-2.3 0 -0.7 -4.2 Z" fill="#333"/>
</g>
<g transform="translate(284.8 63.7) rotate(-11)">
<path d="M-3 -4.2 L2 -5 Q4.4 0 2 5 L-3 4.2 Q-5.2 0 -3 -4.2 Z" fill="#fff" stroke="#1c1c1c" stroke-width="1" stroke-linejoin="round"/>
<path d="M-3.4 -2.1L3.2 -2.1M-3.4 2.1L3.2 2.1" stroke="#1c1c1c" stroke-width="0.8" fill="none"/>
</g>
<g transform="translate(297 49.6) rotate(-6)">
<path d="M-3.3 -3.4 L2.3 -4.2 Q4.7 0 2.3 4.2 L-3.3 3.4 Q-5.5 0 -3.3 -3.4 Z" fill="#fff" stroke="#1c1c1c" stroke-width="1" stroke-linejoin="round"/>
<path d="M-3.7 -1.8L3.5 -1.8M-3.7 1.8L3.5 1.8" stroke="#1c1c1c" stroke-width="0.8" fill="none"/>
<path d="M-3.3 -3.2 Q-5.5 0 -3.3 3.2 L-0.3 3.2 Q-1.9 0 -0.3 -3.2 Z" fill="#333"/>
</g>
<g transform="translate(305.2 60.2) rotate(-6)">
<path d="M-3.3 -3.4 L2.3 -4.2 Q4.7 0 2.3 4.2 L-3.3 3.4 Q-5.5 0 -3.3 -3.4 Z" fill="#fff" stroke="#1c1c1c" stroke-width="1" stroke-linejoin="round"/>
<path d="M-3.7 -1.8L3.5 -1.8M-3.7 1.8L3.5 1.8" stroke="#1c1c1c" stroke-width="0.8" fill="none"/>
<path d="M-3.3 -3.2 Q-5.5 0 -3.3 3.2 L-0.3 3.2 Q-1.9 0 -0.3 -3.2 Z" fill="#333"/>
</g>
</g>
<g id="hose11-ends">
<path d="M385 90 L388.6 98.6" stroke="#1c1c1c" stroke-width="6.6" fill="none" stroke-linejoin="round"/>
<path d="M385.5 91.1 L388.1 97.5" stroke="#fff" stroke-width="4.2" fill="none" stroke-linejoin="round"/>
<path d="M379.1 111 L382.5 119.5" stroke="#1c1c1c" stroke-width="6.6" fill="none" stroke-linejoin="round"/>
<path d="M379.5 112.1 L382.1 118.4" stroke="#fff" stroke-width="4.2" fill="none" stroke-linejoin="round"/>
<path d="M388.5 98.4 L388.6 98.8 L388.7 99.2 L388.7 99.6 L388.8 100 L388.9 100.5 L389 100.9 L389.1 101.2 L389.2 101.6 L389.3 101.9 L389.5 102.2 L389.7 102.5 L389.9 102.7 L390.1 103 L390.4 103.2 L390.7 103.4 L390.9 103.5 L391.2 103.6 L391.5 103.7 L391.9 103.7 L392.2 103.6 L392.6 103.4 L392.9 103.2 L393.3 102.9 L393.8 102.5 L394.2 102.1 L394.6 101.7 L395.1 101.2 L395.5 100.8 L396 100.4 L396.4 100" stroke="#1c1c1c" stroke-width="4.4" fill="none" stroke-linejoin="round"/>
<path d="M388.7 99.6 L388.7 99.6 L388.8 100 L388.9 100.5 L389 100.9 L389.1 101.2 L389.2 101.6 L389.3 101.9 L389.5 102.2 L389.7 102.5 L389.9 102.7 L390.1 103 L390.4 103.2 L390.7 103.4 L390.9 103.5 L391.2 103.6 L391.5 103.7 L391.9 103.7 L392.2 103.6 L392.6 103.4 L392.9 103.2 L393.3 102.9 L393.8 102.5 L394.2 102.1 L394.6 101.7 L395.1 101.2 L395.5 100.8" stroke="#fff" stroke-width="2" fill="none" stroke-linejoin="round"/>
<path d="M382.3 119.3 L382.4 119.7 L382.5 120.1 L382.6 120.5 L382.7 121 L382.8 121.4 L382.9 121.8 L383 122.2 L383.1 122.6 L383.2 122.9 L383.4 123.2 L383.6 123.5 L383.8 123.7 L384 124 L384.3 124.2 L384.5 124.4 L384.8 124.5 L385.1 124.6 L385.4 124.7 L385.7 124.7 L386 124.6 L386.4 124.4 L386.7 124.2 L387.1 123.9 L387.6 123.5 L388 123.1 L388.4 122.7 L388.9 122.2 L389.3 121.8 L389.8 121.4 L390.2 121" stroke="#1c1c1c" stroke-width="4.4" fill="none" stroke-linejoin="round"/>
<path d="M382.6 120.5 L382.6 120.5 L382.7 121 L382.8 121.4 L382.9 121.8 L383 122.2 L383.1 122.6 L383.2 122.9 L383.4 123.2 L383.6 123.5 L383.8 123.7 L384 124 L384.3 124.2 L384.5 124.4 L384.8 124.5 L385.1 124.6 L385.4 124.7 L385.7 124.7 L386 124.6 L386.4 124.4 L386.7 124.2 L387.1 123.9 L387.6 123.5 L388 123.1 L388.4 122.7 L388.9 122.2 L389.3 121.8" stroke="#fff" stroke-width="2" fill="none" stroke-linejoin="round"/>
<g transform="translate(400.9 96) rotate(-40)">
<path d="M-3.5 -4.2 L2.5 -5 Q4.9 0 2.5 5 L-3.5 4.2 Q-5.7 0 -3.5 -4.2 Z" fill="#fff" stroke="#1c1c1c" stroke-width="1" stroke-linejoin="round"/>
<path d="M-3.9 -2.1L3.7 -2.1M-3.9 2.1L3.7 2.1" stroke="#1c1c1c" stroke-width="0.8" fill="none"/>
</g>
<g transform="translate(394.6 116.9) rotate(-40)">
<path d="M-3.5 -4.2 L2.5 -5 Q4.9 0 2.5 5 L-3.5 4.2 Q-5.7 0 -3.5 -4.2 Z" fill="#fff" stroke="#1c1c1c" stroke-width="1" stroke-linejoin="round"/>
<path d="M-3.9 -2.1L3.7 -2.1M-3.9 2.1L3.7 2.1" stroke="#1c1c1c" stroke-width="0.8" fill="none"/>
</g>
</g>
<g id="nuts-bot">
<g transform="translate(346.6 425) rotate(55)">
<path d="M-3 -4 L2 -4.8 Q4.4 0 2 4.8 L-3 4 Q-5.2 0 -3 -4 Z" fill="#fff" stroke="#1c1c1c" stroke-width="1" stroke-linejoin="round"/>
<path d="M-3.4 -2L3.2 -2M-3.4 2L3.2 2" stroke="#1c1c1c" stroke-width="0.8" fill="none"/>
</g>
<g transform="translate(383.2 418) rotate(29)">
<path d="M-3.2 -4 L2.2 -4.8 Q4.6 0 2.2 4.8 L-3.2 4 Q-5.4 0 -3.2 -4 Z" fill="#fff" stroke="#1c1c1c" stroke-width="1" stroke-linejoin="round"/>
<path d="M-3.6 -2L3.4 -2M-3.6 2L3.4 2" stroke="#1c1c1c" stroke-width="0.8" fill="none"/>
</g>
<path d="M384.8 414.2 Q388.6 416.2 386.6 421.4 Q383 423 381.6 421.6 Z" fill="#444"/>
</g>
<g id="bracket">
<path d="M550.6 305L550.6 340" stroke="#1c1c1c" stroke-width="0.8" fill="none"/>
<path d="M537.3 318.6 L581.3 342.4" stroke="#1c1c1c" stroke-width="1.5" fill="none" stroke-linejoin="round"/>
<path d="M544.6 320.7 L581 340.3" stroke="#1c1c1c" stroke-width="0.9" fill="none" stroke-linejoin="round"/>
<path d="M536.1 335 L536.1 316.6 L544.6 312.8 L544.6 320.7" stroke="#1c1c1c" stroke-width="1.1" fill="none" stroke-linejoin="round"/>
<path d="M537.6 319 L537.6 334" stroke="#1c1c1c" stroke-width="0.9" fill="none" stroke-linejoin="round"/>
<path d="M581.5 342.2 L588.6 338.1 L588.9 377.8 L581.7 382.2Z" stroke="#1c1c1c" stroke-width="1.1" fill="#fff" stroke-linejoin="round"/>
<path d="M583.2 343.6 L583.2 380.6" stroke="#1c1c1c" stroke-width="0.8" fill="none" stroke-linejoin="round"/>
<ellipse cx="586" cy="345" rx="0.9" ry="1.2" fill="none" stroke="#1c1c1c" stroke-width="0.8"/>
<ellipse cx="586" cy="377.4" rx="0.9" ry="1.2" fill="none" stroke="#1c1c1c" stroke-width="0.8"/>
<path d="M536.6 361 L536.6 337.2 Q536.6 333.6 539.6 335.2 L576.4 354.6 Q579 356 579.1 359 L579.4 377.6 Q579.4 381 576.6 379.8 L560 371.4" fill="#fff" stroke="#1c1c1c" stroke-width="1.4" stroke-linejoin="round"/>
<path d="M537.4 336.6 L577.4 357.6 L577.8 379.2" fill="none" stroke="#1c1c1c" stroke-width="1.5" stroke-linejoin="round"/>
<ellipse cx="540.9" cy="340.7" rx="2.5" ry="2.8" fill="#fff" stroke="#1c1c1c" stroke-width="1.2"/>
<ellipse cx="540.9" cy="340.7" rx="1.2" ry="1.4" fill="#aaa" stroke="#1c1c1c" stroke-width="0.8"/>
<ellipse cx="573" cy="358.9" rx="2.5" ry="2.8" fill="#fff" stroke="#1c1c1c" stroke-width="1.2"/>
<ellipse cx="573" cy="358.9" rx="1.2" ry="1.4" fill="#aaa" stroke="#1c1c1c" stroke-width="0.8"/>
<ellipse cx="573" cy="374.6" rx="2.5" ry="2.8" fill="#fff" stroke="#1c1c1c" stroke-width="1.2"/>
<ellipse cx="573" cy="374.6" rx="1.2" ry="1.4" fill="#aaa" stroke="#1c1c1c" stroke-width="0.8"/>
<path d="M581.7 383.6L591 389.8" stroke="#1c1c1c" stroke-width="0.8" fill="none"/>
</g>
<g id="pump">
<path d="M545 370 L545 346 Q545 342.4 548 343.8 L565 352.2 Q568 353.8 568.1 357 L568.4 370.4 Q568.4 373.4 565.6 374.6 L562.6 376 Q560.4 377 558 375.6 Z" fill="#fff" stroke="#1c1c1c" stroke-width="1.3" stroke-linejoin="round"/>
<path d="M547 345.8 L564.4 354.4 Q566.2 355.4 566.2 357.6 L566.4 371.6" fill="none" stroke="#1c1c1c" stroke-width="0.9"/>
<circle cx="548" cy="345.9" r="1.5" fill="#fff" stroke="#1c1c1c" stroke-width="1"/>
<circle cx="562.9" cy="355" r="1.4" fill="#fff" stroke="#1c1c1c" stroke-width="1"/>
<circle cx="562" cy="374.4" r="1.4" fill="#fff" stroke="#1c1c1c" stroke-width="1"/>
<path d="M535.6 367.8 L543.1 368.9 L548.8 373.3 L558.5 373.5 L563.1 371.1 L562.5 374.8 L558.5 377.5 L547.5 375.9 L541.1 372.6 L536 370.2Z" stroke="#1c1c1c" stroke-width="1.3" fill="#fff" stroke-linejoin="round"/>
<path d="M548.8 373.3 L547.5 375.9" stroke="#1c1c1c" stroke-width="1" fill="none" stroke-linejoin="round"/>
<path d="M558.5 373.5 L558.5 377.5" stroke="#1c1c1c" stroke-width="1" fill="none" stroke-linejoin="round"/>
<path d="M543.1 353.9 L547.5 349.9 L554.3 349.5 L562 354.5 L561.6 360.1 L556.7 363.6 L553.2 368.2 L543.1 369.1 L538.9 366 L538.4 360.1Z" stroke="#1c1c1c" stroke-width="1.3" fill="#fff" stroke-linejoin="round"/>
<path d="M548.1 351.2 L553.9 350.8 L560.5 355.2 L559.8 359.6 L556.1 362.3 L549.9 360.1 L547 356.1Z" stroke="#1c1c1c" stroke-width="1" fill="#fff" stroke-linejoin="round"/>
<path d="M549.9 360.1 L551 355.4 L547 356.1" stroke="#1c1c1c" stroke-width="0.9" fill="none" stroke-linejoin="round"/>
<path d="M551 355.4 L556.3 353.9 L560.5 355.2" stroke="#1c1c1c" stroke-width="0.9" fill="none" stroke-linejoin="round"/>
<path d="M556.1 362.3 L553.2 368.2" stroke="#1c1c1c" stroke-width="1" fill="none" stroke-linejoin="round"/>
<path d="M543.1 353.9 L545.1 358.1 L542.2 360.1" stroke="#1c1c1c" stroke-width="1" fill="none" stroke-linejoin="round"/>
<circle cx="544.8" cy="363.8" r="4" fill="#222" stroke="#1c1c1c" stroke-width="1.2"/>
<circle cx="545.5" cy="364.3" r="1.9" fill="#8c8c8c" stroke="#1c1c1c" stroke-width="0.4"/>
<path d="M517.1 348.8 L518.2 346.4 L520.6 345.1 L524.3 345.5 L526.5 344 L530.5 345.1 L533.8 346.6 L537.6 347.1 L540.2 348.8 L541.8 352.1 L541.1 356.1 L538.4 360.1 L536.5 363.8 L536 368.4 L532.1 369.3 L528.7 367.6 L526.5 364.3 L522.1 360.3 L519.7 357 L517.7 352.6Z" stroke="#1c1c1c" stroke-width="1.5" fill="#fff" stroke-linejoin="round"/>
<path d="M520.6 348.8 L525.4 347.1 L527.9 348.8 L528.3 353.2 L525 355.4 L521 353.7Z" stroke="#1c1c1c" stroke-width="1.1" fill="#fff" stroke-linejoin="round"/>
<path d="M527.9 348.8 L533.8 350.1 L537.6 347.1" stroke="#1c1c1c" stroke-width="1" fill="none" stroke-linejoin="round"/>
<path d="M528.3 353.2 L533.4 354.8 L533.8 350.1" stroke="#1c1c1c" stroke-width="1" fill="none" stroke-linejoin="round"/>
<path d="M525 355.4 L526.8 360.1 L531.6 362 L533.4 354.8" stroke="#1c1c1c" stroke-width="1" fill="none" stroke-linejoin="round"/>
<path d="M531.6 362 L536.5 363.8" stroke="#1c1c1c" stroke-width="1" fill="none" stroke-linejoin="round"/>
<path d="M521 353.7 L522.3 358.1 L526.8 360.1" stroke="#1c1c1c" stroke-width="1" fill="none" stroke-linejoin="round"/>
<circle cx="518.8" cy="349.7" r="1.4" fill="#fff" stroke="#1c1c1c" stroke-width="1.1"/>
<circle cx="536" cy="348.6" r="1.5" fill="#fff" stroke="#1c1c1c" stroke-width="1.1"/>
<circle cx="538.9" cy="351.7" r="1.2" fill="#fff" stroke="#1c1c1c" stroke-width="1.1"/>
<circle cx="530.1" cy="364.5" r="1.7" fill="#fff" stroke="#1c1c1c" stroke-width="1.1"/>
<circle cx="534.9" cy="353.2" r="1.2" fill="#fff" stroke="#1c1c1c" stroke-width="1.1"/>
<circle cx="522.8" cy="350.6" r="1" fill="#fff" stroke="#1c1c1c" stroke-width="1.1"/>
<circle cx="530.5" cy="347.7" r="1.1" fill="#fff" stroke="#1c1c1c" stroke-width="1.1"/>
<circle cx="524.8" cy="352.1" r="0.9" fill="#fff" stroke="#1c1c1c" stroke-width="1.1"/>
<circle cx="523.5" cy="358.1" r="1" fill="#fff" stroke="#1c1c1c" stroke-width="1.1"/>
<circle cx="533.6" cy="366.9" r="1" fill="#fff" stroke="#1c1c1c" stroke-width="1.1"/>
</g>
<g id="hose10-ends">
<g transform="translate(464.3 229.9) rotate(58)">
<path d="M-2.8 -2.4 L1.8 -3.2 Q4.2 0 1.8 3.2 L-2.8 2.4 Q-5 0 -2.8 -2.4 Z" fill="#fff" stroke="#1c1c1c" stroke-width="1" stroke-linejoin="round"/>
<path d="M-3.2 -1.3L3 -1.3M-3.2 1.3L3 1.3" stroke="#1c1c1c" stroke-width="0.8" fill="none"/>
<path d="M-2.8 -2.2 Q-5 0 -2.8 2.2 L-0.6 2.2 Q-2.2 0 -0.6 -2.2 Z" fill="#333"/>
</g>
<path d="M466.8 240L472.4 237" stroke="#1c1c1c" stroke-width="1" fill="none"/>
<path d="M488.8 307.6L495.2 307.4" stroke="#1c1c1c" stroke-width="1" fill="none"/>
<g transform="translate(504.9 340.4) rotate(30)">
<path d="M-3 -4 L2 -4.8 Q4.4 0 2 4.8 L-3 4 Q-5.2 0 -3 -4 Z" fill="#fff" stroke="#1c1c1c" stroke-width="1" stroke-linejoin="round"/>
<path d="M-3.4 -2L3.2 -2M-3.4 2L3.2 2" stroke="#1c1c1c" stroke-width="0.8" fill="none"/>
</g>
<path d="M506.2 336.6 Q510.4 338.8 508.4 344.2 Q505 345.6 503.6 344.4 Z" fill="#444"/>
<path d="M509.2 343.2L518.2 348.8" stroke="#1c1c1c" stroke-width="0.8" fill="none"/>
<g transform="translate(532.8 234) rotate(25)">
<path d="M-2.7 -2.5 L1.7 -3.3 Q4.1 0 1.7 3.3 L-2.7 2.5 Q-4.9 0 -2.7 -2.5 Z" fill="#fff" stroke="#1c1c1c" stroke-width="1" stroke-linejoin="round"/>
<path d="M-3.1 -1.4L2.9 -1.4M-3.1 1.4L2.9 1.4" stroke="#1c1c1c" stroke-width="0.8" fill="none"/>
<path d="M-2.7 -2.3 Q-4.9 0 -2.7 2.3 L-0.7 2.3 Q-2.3 0 -0.7 -2.3 Z" fill="#333"/>
</g>
<path d="M539.6 233.6L537.4 240" stroke="#1c1c1c" stroke-width="1" fill="none"/>
<path d="M606.7 376.4L613.2 376.6" stroke="#1c1c1c" stroke-width="1" fill="none"/>
<g transform="translate(596.2 393) rotate(30)">
<path d="M-3.2 -4.1 L2.2 -4.9 Q4.6 0 2.2 4.9 L-3.2 4.1 Q-5.4 0 -3.2 -4.1 Z" fill="#fff" stroke="#1c1c1c" stroke-width="1" stroke-linejoin="round"/>
<path d="M-3.6 -2.1L3.4 -2.1M-3.6 2.1L3.4 2.1" stroke="#1c1c1c" stroke-width="0.8" fill="none"/>
</g>
<g transform="translate(550.6 302.4) rotate(90)">
<path d="M-1.8 -1.5 L0.8 -2.3 Q3.2 0 0.8 2.3 L-1.8 1.5 Q-4 0 -1.8 -1.5 Z" fill="#fff" stroke="#1c1c1c" stroke-width="1" stroke-linejoin="round"/>
<path d="M-2.2 -1L2 -1M-2.2 1L2 1" stroke="#1c1c1c" stroke-width="0.8" fill="none"/>
</g>
<rect x="660.3" y="374.8" width="3.5" height="5.6" fill="#999" stroke="#1c1c1c" stroke-width="0.9"/>
<g transform="translate(662.4 391) rotate(90)">
<path d="M-2.6 -2.9 L1.6 -3.7 Q4 0 1.6 3.7 L-2.6 2.9 Q-4.8 0 -2.6 -2.9 Z" fill="#fff" stroke="#1c1c1c" stroke-width="1" stroke-linejoin="round"/>
<path d="M-3 -1.6L2.8 -1.6M-3 1.6L2.8 1.6" stroke="#1c1c1c" stroke-width="0.8" fill="none"/>
<path d="M-2.6 -2.7 Q-4.8 0 -2.6 2.7 L-0.6 2.7 Q-2.2 0 -0.6 -2.7 Z" fill="#333"/>
</g>
<g transform="translate(781.7 460) rotate(90)">
<path d="M-2.8 -2.9 L1.8 -3.7 Q4.2 0 1.8 3.7 L-2.8 2.9 Q-5 0 -2.8 -2.9 Z" fill="#fff" stroke="#1c1c1c" stroke-width="1" stroke-linejoin="round"/>
<path d="M-3.2 -1.6L3 -1.6M-3.2 1.6L3 1.6" stroke="#1c1c1c" stroke-width="0.8" fill="none"/>
</g>
<ellipse cx="781.7" cy="458.6" rx="2.2" ry="1.5" fill="#fff" stroke="#1c1c1c" stroke-width="0.9"/>
<rect x="779.9" y="442.4" width="3.6" height="6.6" fill="#bbb" stroke="#1c1c1c" stroke-width="0.9"/>
<g transform="translate(865.8 468.2) rotate(33)">
<path d="M-2.3 -2.2 L1.3 -3 Q3.7 0 1.3 3 L-2.3 2.2 Q-4.5 0 -2.3 -2.2 Z" fill="#fff" stroke="#1c1c1c" stroke-width="1" stroke-linejoin="round"/>
<path d="M-2.7 -1.3L2.5 -1.3M-2.7 1.3L2.5 1.3" stroke="#1c1c1c" stroke-width="0.8" fill="none"/>
</g>
<circle cx="866.6" cy="468.8" r="2.2" fill="#333"/>
</g>
<path d="M616.4 131.6L618.6 129.6L618.2 131.4L619.6 131.8Z" fill="#b8b8b8"/>
</svg>
</body>
</html>
